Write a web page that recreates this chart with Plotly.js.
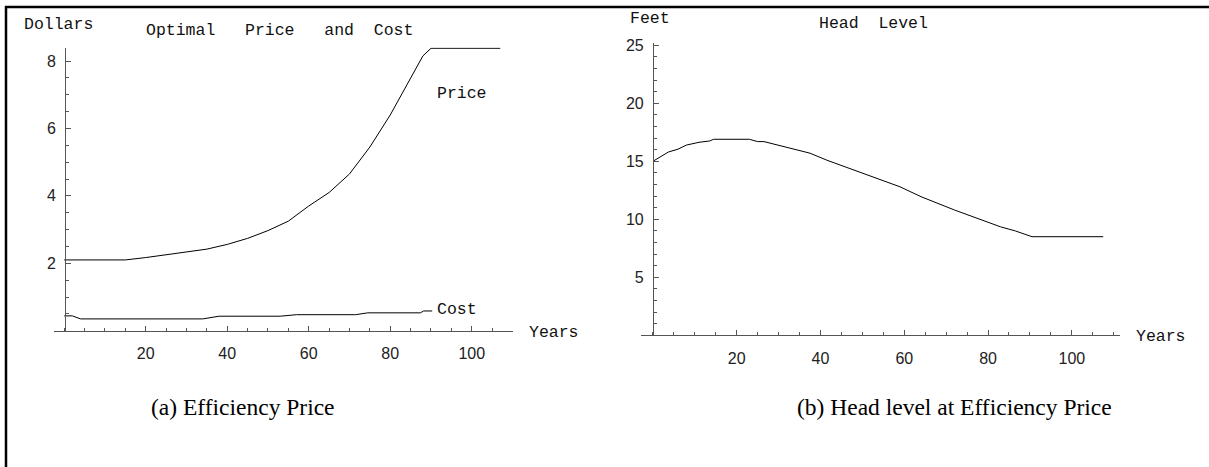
<!DOCTYPE html>
<html>
<head>
<meta charset="utf-8">
<script src="https://cdn.plot.ly/plotly-3.0.1.min.js"></script>
<style>html,body{margin:0;padding:0;background:#fff;}#chart{width:1209px;height:467px;}</style>
</head>
<body>
<div id="chart"></div>
<script>
// Panel (a): optimal price and cost
const priceYears = [0, 15, 20, 25, 30, 35, 40, 45, 50, 55, 60, 65, 70, 75, 80, 85, 88, 90, 107];
const priceDollars = [2.1, 2.1, 2.17, 2.25, 2.33, 2.42, 2.56, 2.74, 2.97, 3.25, 3.7, 4.1, 4.65, 5.45, 6.4, 7.5, 8.15, 8.38, 8.38];
const costYears = [0, 2, 4, 34, 38, 53, 57, 71.5, 74.5, 87.4, 88.2, 90.3];
const costDollars = [0.44, 0.44, 0.35, 0.35, 0.43, 0.43, 0.475, 0.475, 0.53, 0.53, 0.585, 0.585];
// Panel (b): head level
const headYears = [0, 3.7, 6, 8, 11, 13.5, 14.5, 23, 25, 26.5, 37.5, 41.5, 59, 64, 72, 83, 86.5, 90.5, 107.5];
const headFeet = [15.0, 15.8, 16.05, 16.4, 16.64, 16.75, 16.9, 16.9, 16.7, 16.7, 15.7, 15.1, 12.8, 11.95, 10.8, 9.35, 9.0, 8.5, 8.5];
// Tick labels
const xTicks = [20, 40, 60, 80, 100];
const dollarTicks = [2, 4, 6, 8];
const feetTicks = [5, 10, 15, 20, 25];

const W = 1209, H = 467;
const px = v => v / W;
const py = v => 1 - v / H;

const lineStyle = {color: '#000', width: 1};
const traces = [
  {x: priceYears, y: priceDollars, type: 'scatter', mode: 'lines', line: lineStyle, xaxis: 'x', yaxis: 'y', hoverinfo: 'skip'},
  {x: costYears, y: costDollars, type: 'scatter', mode: 'lines', line: lineStyle, xaxis: 'x', yaxis: 'y', hoverinfo: 'skip'},
  {x: headYears, y: headFeet, type: 'scatter', mode: 'lines', line: lineStyle, xaxis: 'x2', yaxis: 'y2', hoverinfo: 'skip'}
];

const tickFont = {family: 'Liberation Sans, Arial, sans-serif', size: 16, color: '#222'};
const axColor = '#555';
function xAxis(domain, range, anchor) {
  return {
    domain: domain, range: range, anchor: anchor,
    showline: true, linecolor: axColor, linewidth: 1,
    showgrid: false, zeroline: false,
    tickmode: 'array', tickvals: xTicks, ticktext: xTicks.map(String),
    ticks: 'inside', ticklen: 5, tickcolor: axColor, tickwidth: 1,
    minor: {dtick: 5, tick0: 0, ticks: 'inside', ticklen: 3, tickcolor: axColor, showgrid: false},
    tickfont: tickFont, ticklabelstandoff: 8, fixedrange: true
  };
}
function yAxis(domain, range, position, vals, minorDt) {
  return {
    domain: domain, range: range, anchor: 'free', position: position,
    showline: true, linecolor: axColor, linewidth: 1,
    showgrid: false, zeroline: false,
    tickmode: 'array', tickvals: vals, ticktext: vals.map(String),
    ticks: 'inside', ticklen: 5, tickcolor: axColor, tickwidth: 1,
    minor: {dtick: minorDt, tick0: 0, ticks: 'inside', ticklen: 3, tickcolor: axColor, showgrid: false},
    tickfont: tickFont, ticklabelstandoff: 6, fixedrange: true
  };
}

const mono = {family: 'Liberation Mono, Courier New, monospace', size: 16.5, color: '#111'};
const serif = {family: 'Liberation Serif, Times New Roman, serif', size: 23.5, color: '#000'};
const nb = '\u00a0';
function ann(text, x, y, font) {
  return {text: text, x: px(x), y: py(y), xref: 'paper', yref: 'paper', xanchor: 'center', yanchor: 'middle', showarrow: false, font: font};
}

const layout = {
  width: W, height: H,
  margin: {l: 0, r: 0, t: 0, b: 0, pad: 0},
  paper_bgcolor: '#fff', plot_bgcolor: 'rgba(0,0,0,0)',
  showlegend: false,
  xaxis: xAxis([px(54), px(512.5)], [-2.5, 110], 'y'),
  yaxis: yAxis([1 - 330.7 / H, 1 - 47.6 / H], [0, 8.4], px(65), dollarTicks, 0.5),
  xaxis2: xAxis([px(641.2), px(1120)], [-2.8, 111.5], 'y2'),
  yaxis2: yAxis([1 - 335.3 / H, 1 - 43 / H], [0, 25.2], px(652.9), feetTicks, 1),
  annotations: [
    ann('Dollars', 58.5, 25, mono),
    ann('Optimal' + nb + nb + nb + 'Price' + nb + nb + nb + 'and' + nb + nb + 'Cost', 279.5, 30, mono),
    ann('Price', 462, 94, mono),
    ann('Cost', 456.7, 309, mono),
    ann('Years', 553.5, 332.5, mono),
    ann('Feet', 650, 18.5, mono),
    ann('Head' + nb + nb + 'Level', 873, 24, mono),
    ann('Years', 1161, 336, mono),
    ann('(a) Efficiency Price', 243, 407, serif),
    ann('(b) Head level at Efficiency Price', 954, 407, serif)
  ],
  shapes: [
    {type: 'line', xref: 'paper', yref: 'paper', x0: px(5), x1: 1, y0: py(7), y1: py(7), line: {color: '#000', width: 2.5}},
    {type: 'line', xref: 'paper', yref: 'paper', x0: px(6), x1: px(6), y0: 0, y1: py(6), line: {color: '#000', width: 2.5}}
  ]
};

Plotly.newPlot('chart', traces, layout, {staticPlot: true, displayModeBar: false});
</script>
</body>
</html>
